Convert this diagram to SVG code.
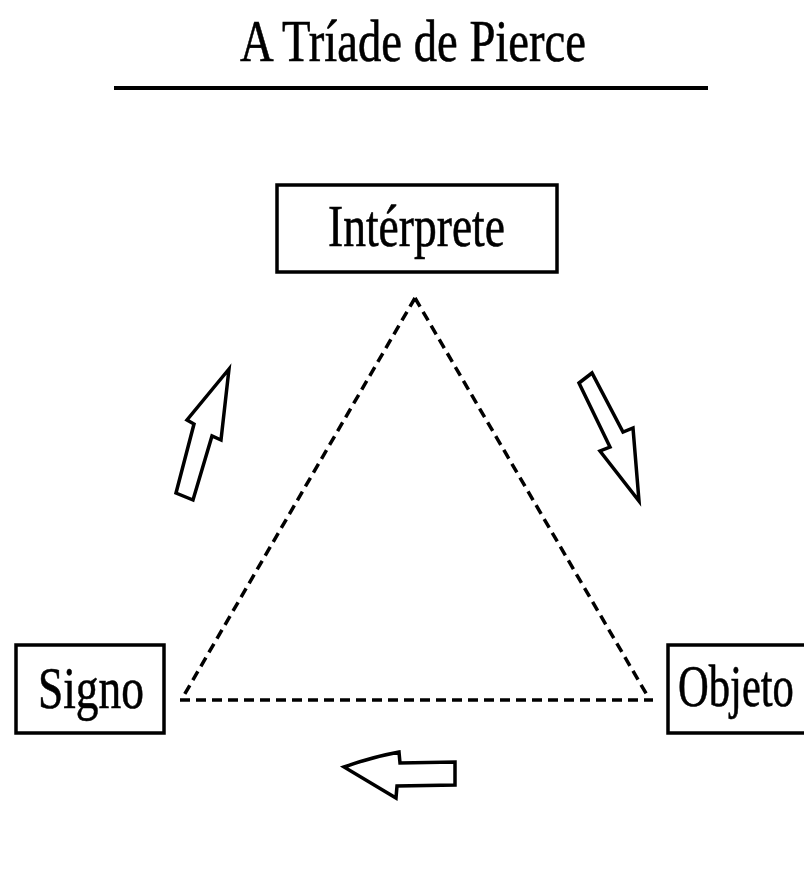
<svg xmlns="http://www.w3.org/2000/svg" width="804" height="878" viewBox="0 0 804 878">
<style>
.t{font-family:"Liberation Serif","Times New Roman",serif;font-size:60px;fill:#000;stroke:#000;stroke-width:0.6}
.box{fill:#fff;stroke:#000;stroke-width:3.5}
.dash{fill:none;stroke:#000;stroke-width:3.5;stroke-dasharray:10 6}
.arr{fill:#fff;stroke:#000;stroke-width:3.5;stroke-linejoin:miter}
</style>
<rect width="804" height="878" fill="#fff"/>
<g id="title">
<text class="t" x="240" y="61" textLength="346" lengthAdjust="spacingAndGlyphs">A Tríade de Pierce</text>
<line x1="114" y1="88" x2="708" y2="88" stroke="#000" stroke-width="4"/>
</g>
<g id="connectors">
<path class="dash" d="M415 298 L183 697 M415 298 L647 695 M180 700 L653 700"/>
<path class="arr" d="M229 369 L187 420 L194 424 L176 493 L193 500 L212 436 L221 440 Z"/>
<path class="arr" d="M579 383 L592 373 L623 432 L633 428 L639 501 L600 451 L610 447 Z"/>
<path class="arr" d="M344 767 Q372 757 399 752 L400 763 L455 762 L455 785 L397 786 L396 798 Z"/>
</g>
<g id="interprete">
<rect class="box" x="277" y="185" width="280" height="87"/>
<text class="t" x="328" y="246" textLength="177" lengthAdjust="spacingAndGlyphs">Intérprete</text>
</g>
<g id="signo">
<rect class="box" x="16" y="645" width="148" height="88"/>
<text class="t" x="38" y="708" textLength="106" lengthAdjust="spacingAndGlyphs">Signo</text>
</g>
<g id="objeto">
<rect class="box" x="668" y="645" width="138" height="88"/>
<text class="t" transform="translate(678 706) scale(0.71 1)">Objeto</text>
</g>
</svg>
